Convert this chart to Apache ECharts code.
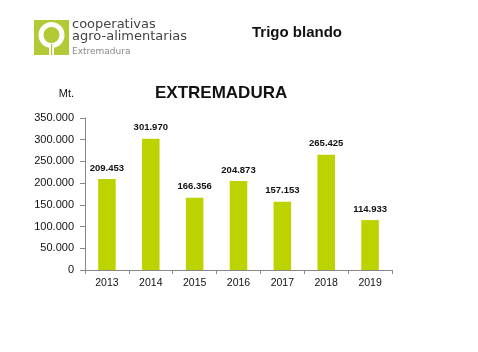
<!DOCTYPE html>
<html>
<head>
<meta charset="utf-8">
<script src="https://cdn.jsdelivr.net/npm/echarts@6/dist/echarts.min.js"></script>
<style>
  html, body { margin: 0; padding: 0; background: #fff; }
  #chart { width: 478px; height: 352px; }
</style>
</head>
<body>
<div id="chart"></div>
<script>
const years = ['2013', '2014', '2015', '2016', '2017', '2018', '2019']
const production = [209453, 301970, 166356, 204873, 157153, 265425, 114933]
const yTicks = [0, 50000, 100000, 150000, 200000, 250000, 300000, 350000]

// 350000 -> '350.000'
function fmt (v) {
  return String(v).replace(/\B(?=(\d{3})+(?!\d))/g, '.')
}

const chart = echarts.init(document.getElementById('chart'))
const logoGreen = '#b3c935'

const option = {
  animation: false,
  textStyle: { fontFamily: 'Liberation Sans' },
  title: [
    {
      text: 'Trigo blando',
      left: 247,
      top: 20,
      textStyle: { fontSize: 15, fontWeight: 'bold', color: '#111' }
    },
    {
      text: 'EXTREMADURA',
      left: 150,
      top: 80,
      textStyle: { fontSize: 17, fontWeight: 'bold', color: '#111' }
    }
  ],
  graphic: [
    { type: 'rect', shape: { x: 34, y: 20, width: 35, height: 35 }, style: { fill: logoGreen } },
    { type: 'circle', shape: { cx: 51.5, cy: 35, r: 10.5 }, style: { fill: logoGreen, stroke: '#fff', lineWidth: 5 } },
    { type: 'rect', shape: { x: 49, y: 44, width: 5, height: 11 }, style: { fill: '#fff' } },
    { type: 'rect', shape: { x: 51, y: 44, width: 1.2, height: 11 }, style: { fill: logoGreen } },
    { type: 'text', x: 72, y: 25, style: { text: 'cooperativas', fontSize: 13, fontFamily: 'DejaVu Sans', fill: '#444', verticalAlign: 'middle' } },
    { type: 'text', x: 72, y: 37, style: { text: 'agro-alimentarias', fontSize: 13, fontFamily: 'DejaVu Sans', fill: '#444', verticalAlign: 'middle' } },
    { type: 'text', x: 72, y: 52, style: { text: 'Extremadura', fontSize: 9, fontFamily: 'DejaVu Sans', fill: '#888', verticalAlign: 'middle' } }
  ],
  grid: { left: 85, right: 86, top: 118, bottom: 82 },
  xAxis: {
    type: 'category',
    data: years,
    axisLine: { lineStyle: { color: '#888' } },
    axisTick: { show: true, length: 4, lineStyle: { color: '#888' } },
    axisLabel: { color: '#111', fontSize: 10.5, margin: 8 }
  },
  yAxis: {
    type: 'value',
    min: 0,
    max: yTicks[yTicks.length - 1],
    interval: yTicks[1] - yTicks[0],
    name: 'Mt.',
    nameLocation: 'end',
    nameGap: 19,
    nameTextStyle: { color: '#111', fontSize: 11, align: 'right', padding: [0, 11, 0, 0] },
    axisLine: { show: true, lineStyle: { color: '#888' } },
    axisTick: { show: true, length: 5, lineStyle: { color: '#888' } },
    splitLine: { show: false },
    axisLabel: { color: '#111', fontSize: 11, margin: 11, formatter: v => fmt(v) }
  },
  series: [
    {
      type: 'bar',
      data: production,
      barWidth: '40%',
      itemStyle: { color: '#bdd300' },
      label: {
        show: true,
        position: 'top',
        distance: 6,
        fontSize: 9.5,
        fontWeight: 'bold',
        color: '#111',
        formatter: p => fmt(p.value)
      }
    }
  ]
}

chart.setOption(option)
</script>
</body>
</html>
